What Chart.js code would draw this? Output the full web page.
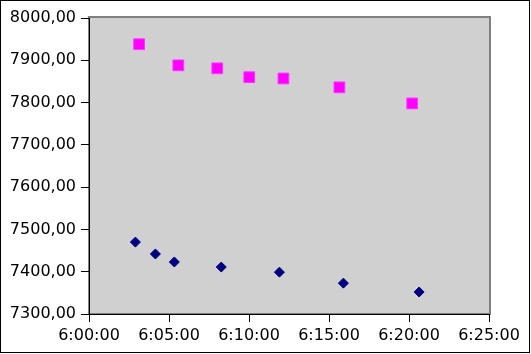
<!DOCTYPE html>
<html>
<head>
<meta charset="utf-8">
<script src="https://cdn.jsdelivr.net/npm/chart.js@4/dist/chart.umd.min.js"></script>
<style>
  body { margin: 0; background: #fff; }
</style>
</head>
<body>
<canvas id="myChart" width="531" height="354"></canvas>
<script>
// readings (time of day, value)
const pinkTimes = ['6:03:08', '6:05:35', '6:08:01', '6:10:01', '6:12:09', '6:15:39', '6:20:12'];
const pinkValues = [7938, 7888, 7881, 7860, 7857, 7836, 7798];
const navyTimes = ['6:02:54', '6:04:09', '6:05:20', '6:08:16', '6:11:54', '6:15:54', '6:20:38'];
const navyValues = [7470, 7442, 7423, 7411, 7399, 7373, 7352];

const xStart = '6:00:00';
const xEnd = '6:25:00';
const xStep = 300; // seconds
const yMin = 7300, yMax = 8000, yStep = 100;

function toSec(t) {
    let [h, m, s] = t.split(':').map(Number);
    return h * 3600 + m * 60 + s;
}

function fmtTime(sec) {
    let h = Math.floor(sec / 3600);
    let m = Math.floor(sec % 3600 / 60);
    let s = Math.round(sec % 60);
    return `${h}:${String(m).padStart(2, '0')}:${String(s).padStart(2, '0')}`;
}

const toPoints = (times, values) => times.map((t, i) => ({x: toSec(t), y: values[i]}));

const plotFrame = {
    id: 'plotFrame',
    beforeDraw(chart) {
        const {ctx, chartArea: a} = chart;
        ctx.save();
        ctx.fillStyle = '#d0d0d0';
        ctx.fillRect(a.left, a.top, a.right - a.left, a.bottom - a.top);
        ctx.strokeStyle = '#808080';
        ctx.lineWidth = 2;
        ctx.strokeRect(a.left, a.top - 1, a.right - a.left + 1, a.bottom - a.top + 1);
        ctx.restore();
    },
    afterDraw(chart) {
        const ctx = chart.ctx;
        ctx.save();
        ctx.strokeStyle = '#000';
        ctx.lineWidth = 1;
        ctx.strokeRect(0.5, 0.5, 529, 352);
        ctx.restore();
    }
};

const ctx = document.getElementById('myChart').getContext('2d');
Chart.defaults.font.family = 'DejaVu Sans';
Chart.defaults.font.size = 16;
Chart.defaults.color = '#000';

let chart = new Chart(ctx, {
    type: 'scatter',
    data: {
        datasets: [
            {
                label: 'A',
                data: toPoints(pinkTimes, pinkValues),
                pointStyle: 'rect',
                pointRadius: 7.6,
                pointHoverRadius: 7.6,
                backgroundColor: '#ff00ff',
                borderColor: '#ff33ff',
                borderWidth: 1,
            },
            {
                label: 'B',
                data: toPoints(navyTimes, navyValues),
                pointStyle: 'rectRot',
                pointRadius: 5,
                pointHoverRadius: 5,
                backgroundColor: '#000080',
                borderColor: '#000080',
                borderWidth: 1,
            },
        ],
    },
    options: {
        responsive: false,
        animation: false,
        layout: {padding: {left: 0, top: 18, right: 42, bottom: 0}},
        plugins: {legend: {display: false}, tooltip: {enabled: false}},
        scales: {
            x: {
                type: 'linear',
                min: toSec(xStart),
                max: toSec(xEnd),
                afterFit: (s) => { s.height = 40; },
                grid: {drawOnChartArea: false, tickLength: 8, color: '#000'},
                border: {color: '#000', width: 1},
                ticks: {
                    stepSize: xStep,
                    autoSkip: false,
                    maxRotation: 0,
                    padding: 4,
                    callback: (v) => fmtTime(v),
                },
            },
            y: {
                min: yMin,
                max: yMax,
                afterFit: (s) => { s.width = 89; },
                grid: {drawOnChartArea: false, tickLength: 8, color: '#000'},
                border: {color: '#000', width: 1},
                ticks: {
                    stepSize: yStep,
                    padding: 5,
                    callback: (v) => v.toFixed(2).replace('.', ','),
                },
            },
        },
    },
    plugins: [plotFrame],
});
</script>
</body>
</html>
